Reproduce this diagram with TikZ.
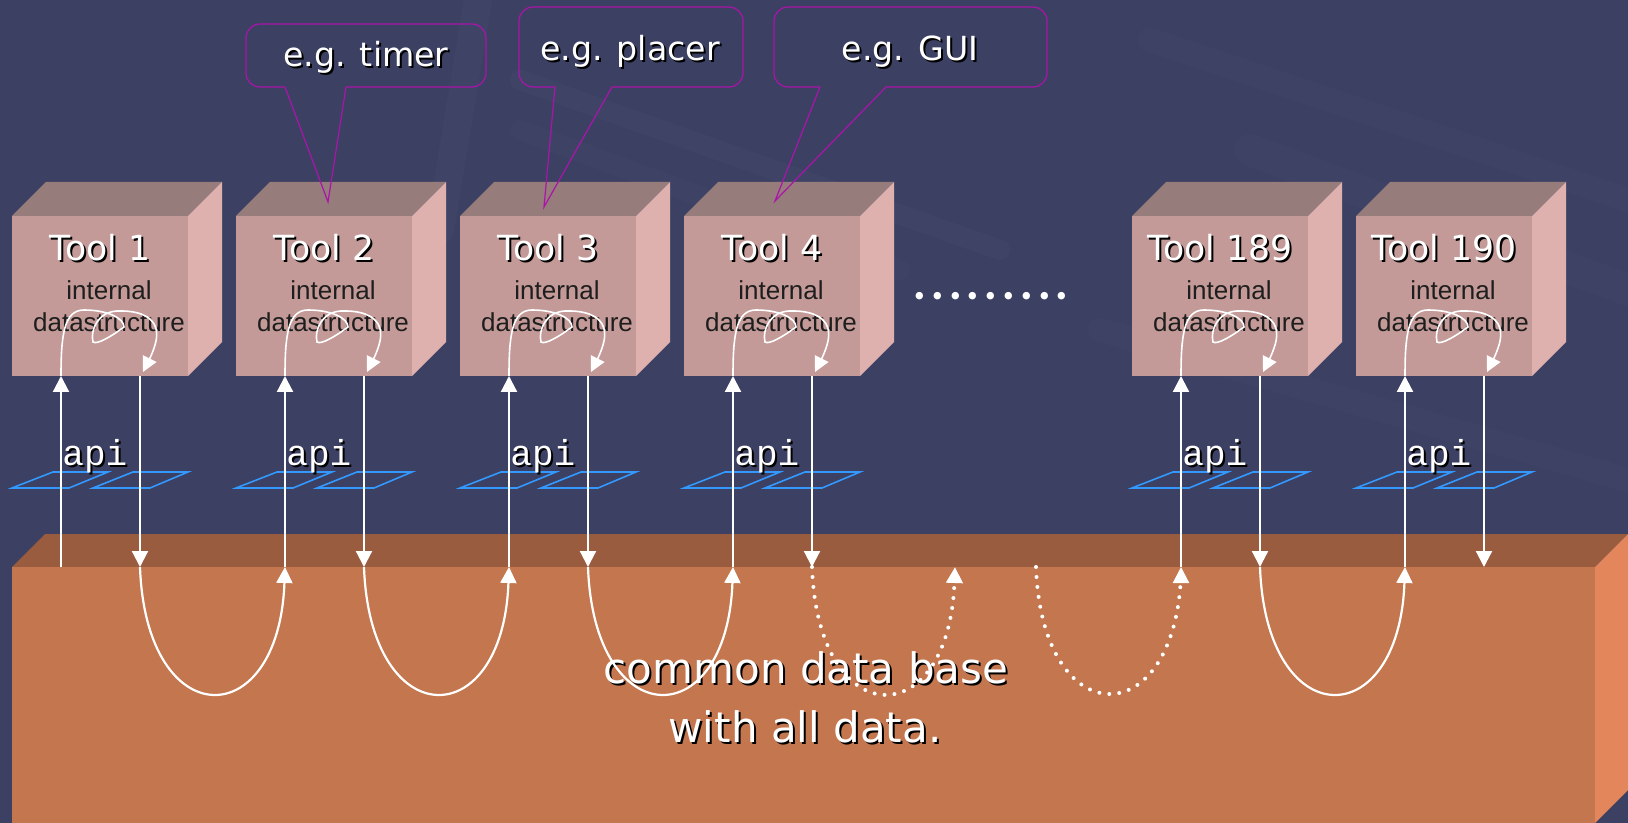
\documentclass[tikz,border=0pt]{standalone}
\usepackage{fontspec}
\usetikzlibrary{arrows.meta,calc}
\newfontfamily\comicf{DejaVu Sans}
\newfontfamily\arialf{Liberation Sans}
\newfontfamily\courf{Liberation Mono}
\newfontfamily\dotf{Poppins}
\definecolor{bg}{RGB}{60,64,98}
\definecolor{streak}{RGB}{130,160,200}
\definecolor{toolfr}{RGB}{196,154,152}
\definecolor{tooltop}{RGB}{150,124,122}
\definecolor{toolrt}{RGB}{222,176,174}
\definecolor{dbtopc}{RGB}{154,92,62}
\definecolor{dbfrc}{RGB}{196,118,78}
\definecolor{dbrtc}{RGB}{228,134,92}
\definecolor{apiblue}{RGB}{51,153,255}
\definecolor{callmag}{RGB}{170,20,170}
\definecolor{intcol}{RGB}{30,30,30}
\newcommand\shd[1]{\makebox[0pt][l]{\kern1pt\raisebox{-1pt}{\textcolor{black}{#1}}}#1}
\newcommand\sdot{.\kern2.6pt}
\begin{document}
\begin{tikzpicture}[x=0.5pt,y=-0.5pt,
  arr/.style={draw=white, line width=1.1pt, -{Triangle[width=8pt,length=8pt]}},
  dotarr/.style={draw=white, line width=2pt, line cap=round, dash pattern=on 0pt off 5pt, -{Triangle[width=8pt,length=8pt]}},
  loopline/.style={draw=white, line width=0.8pt, -{Triangle[width=7.5pt,length=7.5pt]}},
  apibox/.style={draw=apiblue, line width=0.8pt},
  callout/.style={draw=callmag, line width=0.6pt},
  toolfront/.style={fill=toolfr, minimum width=88pt, minimum height=80pt, inner sep=0pt, outer sep=0pt, anchor=north west},
  tooltitle/.style={text=white, font=\comicf\fontsize{17.3pt}{20pt}\selectfont, anchor=base, inner sep=0pt},
  inttext/.style={text=intcol, font=\arialf\fontsize{13pt}{15pt}\selectfont, anchor=base, inner sep=0pt},
  apitext/.style={text=white, font=\courf\fontsize{18pt}{20pt}\selectfont, anchor=base west, inner sep=0pt},
  calltext/.style={text=white, font=\comicf\fontsize{16.6pt}{19pt}\selectfont, anchor=base, inner sep=0pt},
  dbtext/.style={text=white, font=\comicf\fontsize{21pt}{27pt}\selectfont, anchor=base, inner sep=0pt},
]
\useasboundingbox (0,0) rectangle (1628,823);
\fill[bg] (0,0) rectangle (1628,823);
% faint background streaks
\begin{scope}[line cap=round]
\draw[streak, opacity=0.05, line width=14pt] (478,0) -- (440,230);
\draw[streak, opacity=0.05, line width=10pt] (520,80) -- (1000,250);
\draw[streak, opacity=0.04, line width=10pt] (520,130) -- (900,270);
\draw[streak, opacity=0.04, line width=12pt] (1150,40) -- (1628,200);
\draw[streak, opacity=0.04, line width=12pt] (1100,330) -- (1628,480);
\draw[streak, opacity=0.03, line width=16pt] (1250,150) -- (1628,290);
\end{scope}
% common data base block
\fill[dbtopc] (12,567) -- (45,534) -- (1628,534) -- (1595,567) -- cycle;
\fill[dbrtc] (1595,567) -- (1628,534) -- (1628,790) -- (1595,823) -- cycle;
\node[fill=dbfrc, inner sep=0pt, outer sep=0pt, minimum width=791.5pt, minimum height=130pt, anchor=north west] (base) at (12,567) {};
\node[dbtext] (dbl1) at (806,683) {\shd{common data base}};
\node[dbtext] (dbl2) at (805,742) {\shd{with all data.}};
% tools
\foreach \n/\x/\lab in {1/12/1,2/236/2,3/460/3,4/684/4,5/1132/189,6/1356/190}{
  \fill[tooltop] (\x,216) -- (\x+34,182) -- (\x+210,182) -- (\x+176,216) -- cycle;
  \fill[toolrt] (\x+176,216) -- (\x+210,182) -- (\x+210,342) -- (\x+176,376) -- cycle;
  \node[toolfront] (t\n) at (\x,216) {};
  \node[tooltitle] (tt\n) at (\x+88,261) {\shd{Tool \lab}};
  \node[inttext] (ti\n) at (\x+97,300) {internal};
  \node[inttext] (td\n) at (\x+97,332) {datastructure};
  \draw[apibox] (\x,488) -- (\x+41,472) -- (\x+96,472) -- (\x+57,488) -- cycle;
  \draw[apibox] (\x+81,488) -- (\x+121,472) -- (\x+176,472) -- (\x+138,488) -- cycle;
  \node[apitext] (api\n) at (\x+50,466) {\shd{api}};
  \coordinate (uT\n) at (\x+49,376);
  \coordinate (uB\n) at (\x+49,567);
  \coordinate (dT\n) at (\x+128,376);
  \coordinate (dB\n) at (\x+128,567);
  \coordinate (lE\n) at (\x+131,372);
  \draw[arr] (uB\n) -- (uT\n);
  \draw[arr] (dT\n) -- (dB\n);
  \draw[loopline] (uT\n) .. controls (\x+49,335) and (\x+52,310) .. (\x+72,310)
     .. controls (\x+95,310) and (\x+112,318) .. (\x+112,327)
     .. controls (\x+100,336) and (\x+85,345) .. (\x+81,342)
     .. controls (\x+78,330) and (\x+86,312) .. (\x+105,311)
     .. controls (\x+135,310) and (\x+150,322) .. (\x+143,345)
     .. controls (\x+140,355) and (\x+135,364) .. (lE\n);
}
% connections through the data base
\foreach \a/\b in {1/2,2/3,3/4,5/6}{
  \draw[arr] (dB\a) .. controls ($(dB\a)+(6,168)$) and ($(uB\b)+(-6,168)$) .. (uB\b);
}
\coordinate (dotA) at (955,567);
\coordinate (dotB) at (1036,567);
\draw[dotarr] (dB4) .. controls ($(dB4)+(6,168)$) and ($(dotA)+(-6,168)$) .. (dotA);
\draw[dotarr, -] (dotB) .. controls ($(dotB)+(6,168)$) and ($(uB5)+(-6,168)$) .. ($(uB5)+(0,8)$);
\draw[arr] ($(uB5)+(0,12)$) -- (uB5);
% ellipsis
\node[text=white, font=\dotf\fontsize{30pt}{34pt}\selectfont, anchor=base, inner sep=0pt] (dots) at (991,300) {\sdot\sdot\sdot\sdot\sdot\sdot\sdot\sdot.};
% callouts
\coordinate (c1pl) at (285,87); \coordinate (c1pr) at (346,87); \coordinate (c1tip) at (328,202);
\draw[callout, rounded corners=7pt] (c1pr) -- (486,87) -- (486,24) -- (246,24) -- (246,87) -- (c1pl);
\draw[callout] (c1pl) -- (c1tip) -- (c1pr);
\node[calltext] (c1) at (366,67) {\shd{e.g. timer}};
\coordinate (c2pl) at (555,87); \coordinate (c2pr) at (612,87); \coordinate (c2tip) at (544,207);
\draw[callout, rounded corners=7pt] (c2pr) -- (743,87) -- (743,7) -- (519,7) -- (519,87) -- (c2pl);
\draw[callout] (c2pl) -- (c2tip) -- (c2pr);
\node[calltext] (c2) at (630,61) {\shd{e.g. placer}};
\coordinate (c3pl) at (820,87); \coordinate (c3pr) at (886,87); \coordinate (c3tip) at (775,201);
\draw[callout, rounded corners=7pt] (c3pr) -- (1047,87) -- (1047,7) -- (774,7) -- (774,87) -- (c3pl);
\draw[callout] (c3pl) -- (c3tip) -- (c3pr);
\node[calltext] (c3) at (910,61) {\shd{e.g. GUI}};
\end{tikzpicture}
\end{document}
